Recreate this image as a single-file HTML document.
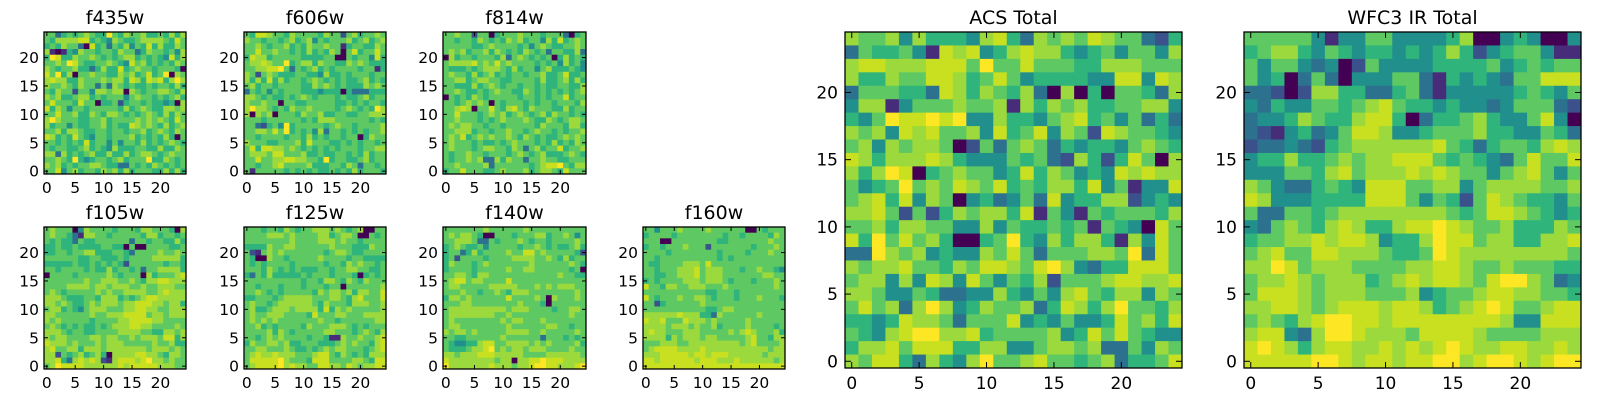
<!DOCTYPE html>
<html><head><meta charset="utf-8"><style>
html,body{margin:0;padding:0;background:#fff}
svg{display:block}
text{font-family:"DejaVu Sans","Liberation Sans",sans-serif;fill:#000}
</style></head><body>
<svg id="fig" width="1600" height="400" viewBox="0 0 1600 400" xmlns="http://www.w3.org/2000/svg"></svg>
<script>
// Data: each panel = 25 rows (top row y=24 first), each digit = intensity level 0..9
const panelTitles = ["f435w","f606w","f814w","f105w","f125w","f140w","f160w","ACS Total","WFC3 IR Total"];
const xTickValues = [0,5,10,15,20];
const yTickValues = [0,5,10,15,20];
const dataF435 = [
"6635656765596576675565757","6577778856547655677776586","5657663085636574658575576","7101547665665766357665647","5985576676565677565654857","6676986556676548675656576","7656675535755856766566650","8695706676655767568569076","7877557666767758758785797","7667657663637656556566575","6576626647767707656677657","7675567756566646766565675","6866658660556256656554507","8576466566666575676557767","6686675576577656567657576","7976665566756666767676586","7566465566756558767657567","6675776556656656675676576","8756586546656667565657506","6656565856646466575656765","6566556756547555665575576","7737565675575575677656766","6676595456656756669557656","7675656677655336565765656","6684675665767575666557575"];
const dataF606 = [
"6588766576666576626756676","7665665675674656667567567","6676566756576676615665576","6686676656575657606856686","5877566666555566006566485","6778766956775766557676555","6677889636567565666656615","7626765556655475565666566","7575857566567656565567565","6756656666557676565557676","3656465666555455505333555","7765655656765666565567566","7667660665566666556565665","7977656576676666567656597","7076706665766755665566777","6665666666565777666666565","6632564956666656766566667","6677686956564736656565667","6656666566575656656605766","7666556667586665565656656","6858877676565656566656677","6777688666755655665657566","6686677887766595665567566","6656678666675556657636656","6166666565656556565756665"];
const dataF814 = [
"6676626605666766656663056","6656657656576756647585676","6666655676666564676556676","6767566757656576563665573","0756656665736765656057565","6777786768676666565647564","6555656777657566467555654","6766575675656656675568556","6677567766556666575567575","6655575676566566565566557","6676556567665576565656567","0656576566666566565668566","6656767606566656566566657","6678706686578657666557566","6686665676756765675766565","6676665656766676557656776","6767766566566666576665775","6677756656676656766565667","6768567676676576565567676","6766656556567666565756576","6766656776657636756685667","6566766566656765675556765","6566767337576636676655666","6676666736666665678896577","5668666556766675677658666"];
const dataF105 = [
"6766604766665666577666507","6766531776656666657756656","6565536556666663665665575","5565565555665506006666556","5566566775556653666676676","6666665566555656666777775","5555565565656526666665665","6656666565575665636677775","0666656666676566607566678","6666666766777667657788777","6666777767767776676677766","6765666667676677776678777","7776555665777565678877777","7767655676777677888776775","6775654677766677887766777","7766666676677788886776777","7676666656666778888776666","6765656556567778877666676","7776566556666777766557767","7677666677677667677768857","8777676667677766666766755","7866775777677777776777676","7726567567507777887765776","7785378787217888789776766","6798888777777878888877766"];
const dataF125 = [
"6665665765667776765670066","6666777676666775677600656","6666666676666777676656666","5555766776666667666555766","6216767666666656776556666","6500766566666766665665555","6565666656666656657676656","6665765656555665667766556","5365755555656665666505656","6666666666566577657657666","6656665666566656606666667","6676565666665767767577668","5566656777776667765786668","6766567777776576665777667","6755677767777585767666667","6766777666658666776667777","6767676666666766566666677","6675656666576667776565666","6666757656666677666567657","6656767666656651176676678","5766776755666555676766578","6677666765565676776665678","6787787776667886576565777","6888889766658886666776588","6788889787766887768767788"];
const dataF140 = [
"6666666766666676666666666","6767765006665666775667646","6677763365666765665666676","5676556466666566765655675","5663575666676688676666652","5626666566667777667657566","5766656766666667666666765","5666656666676677666666560","6677657766666666666676655","6788677666686666666666666","6776666677777666767677766","6667665667657776666666676","5776766666686666760766676","6667766666666766650666666","6777777777767776666566776","6777777776676666666666766","6766666666767766676666666","6776666666676666667766566","7677676666677776676666676","6655666666766666636665656","6544557886677776767666675","6555677896767767776666766","7767778887777766667777776","8777777776770778898887777","9777777787776778998877789"];
const dataF160 = [
"6646667666676666660065666","5666656666666656656666576","6660066666666556666666766","5665666766626666666566676","6666566666666566665666766","6656666666666565666666666","6556666777686666666666666","6656667778677766656676654","6655667778677766666667766","5656666777677765666566676","8665776677766676666666676","6666666666655666566666666","8656667667765666566676665","6625666666766666666666666","6666666666655677666666666","7777778777553766666676666","8778666877767666667666666","7777677767667566667666656","7877666777666667678766675","7777576777677666667866577","6667776677777777767866667","6788887777877777777777677","7778888878878887777776777","8878888887888777877777767","8888888888888888888888888"];
const dataACS = [
"7667475554785376768766325","3655641878457877545646647","7887778886966866655777666","7557668875686455554488487","3666553875765730705066537","4771466676671757675566774","5469889894475546785646353","7674878667485684762876654","6747677602636763545546765","8757778754446563275258607","7579805676645857645487877","6456967687685657758461448","6785847604534638455772454","7786262576775816416566657","6675776644746556561654086","8596867500569547577517486","3397674544768636667769386","7677866576887689743558886","6774748748646572666788778","7764465334475464786577476","6867379745766735875796657","5545877636668454644586758","6547899778566667458686544","5778688855774467767336476","7688537547966786656735568"];
const dataWFC3 = [
"6666641446644445700454004","5677546545545457524566411","6466434026444455556456566","6450363044466315454366888","3320277553356314444456546","4354466567865545443466632","3445765578850355675446840","3214534688744566675544653","2334325677777786535665787","4557556767788865654368668","4446657867778787664678646","7643356548886677467777667","8744455558886465268765546","6336656777777776568876545","4367657875578898766755576","5667787887455798867755778","6786688777655698777777776","7798677766667788766766655","6778767775678788768997634","6888767776667456678877665","7788767888788756789866788","6765789988788888888744888","7884379987776888876666777","8987578877878789877887787","8888899878878899789987899"];
const panelData = [dataF435,dataF606,dataF814,dataF105,dataF125,dataF140,dataF160,dataACS,dataWFC3];
// panel frames (layout only)
const frames = [
[44,32,142,142],[244,32,142,142],[443,32,143,142],
[44,227,142,142],[244,227,142,142],[443,227,143,142],[643,227,142,142],
[845,32,337,336],[1244,32,337,336]];
const vir = ["#440154","#472c7a","#3b518b","#2c718e","#21908d","#2fb47c","#5ec962","#9bd93c","#c8e020","#fde725"];
const NS = "http://www.w3.org/2000/svg";
const svg = document.getElementById('fig');
function mk(tag, attrs, parent){const e=document.createElementNS(NS,tag);for(const k in attrs)e.setAttribute(k,attrs[k]);(parent||svg).appendChild(e);return e;}
panelData.forEach((rows,p)=>{
  const [L,T,W,H]=frames[p];
  const big = W>200;
  const g = mk('g',{});
  
  
  const n = rows.length;
  const xs = v => L + (v+0.5)*W/25;
  const ys = v => T + H - (v+0.5)*H/n;
  rows.forEach((row,ri)=>{
    const yv = n-1-ri;
    for(let c=0;c<row.length;c++){
      const d = +row[c];
      const x0 = xs(c-0.5), x1 = xs(c+0.5), y0 = ys(yv+0.5), y1 = ys(yv-0.5);
      const r = mk('rect',{x:x0.toFixed(2),y:y0.toFixed(2),width:(x1-x0+0.4).toFixed(2),height:(y1-y0+0.4).toFixed(2),fill:vir[d]},g);
      
      
    }
  });
  const fr = mk('rect',{x:L,y:T,width:W,height:H,fill:'none',stroke:'#000','stroke-width':1.3},g);
  
  
  const fs = big ? 17 : 15.5;
  const tl = big ? 6 : 4;
  xTickValues.forEach(v=>{
    const x = xs(v);
    mk('line',{x1:x,x2:x,y1:T+H,y2:T+H-tl,stroke:'#000','stroke-width':1},g);
    mk('line',{x1:x,x2:x,y1:T,y2:T+tl,stroke:'#000','stroke-width':1},g);
    const t = mk('text',{x:x,y:T+H+(big?21:19),'text-anchor':'middle','font-size':fs},g);
    t.textContent = v;
    
    
  });
  yTickValues.forEach(v=>{
    const y = ys(v);
    mk('line',{x1:L,x2:L+tl,y1:y,y2:y,stroke:'#000','stroke-width':1},g);
    mk('line',{x1:L+W,x2:L+W-tl,y1:y,y2:y,stroke:'#000','stroke-width':1},g);
    const t = mk('text',{x:L-(big?7:5),y:y+(big?6:5.5),'text-anchor':'end','font-size':fs},g);
    t.textContent = v;
    
    
  });
  const tt = mk('text',{x:L+W/2,y:T-8,'text-anchor':'middle','font-size':19},g);
  tt.textContent = panelTitles[p];
  
  
});
</script>
</body></html>
